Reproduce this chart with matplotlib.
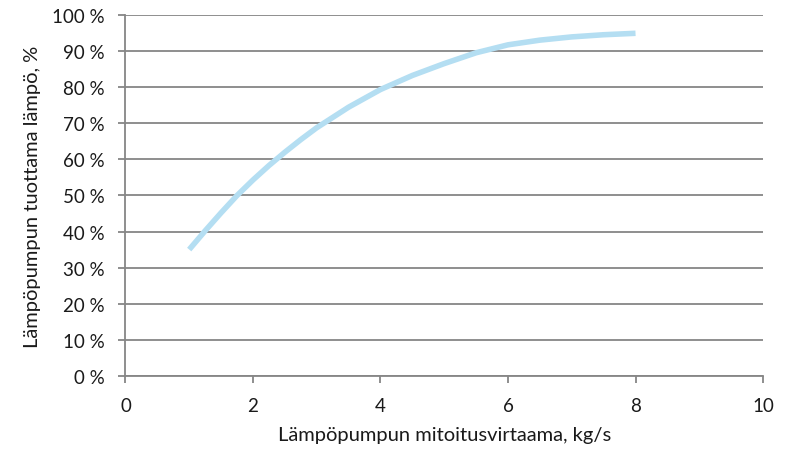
import matplotlib.pyplot as plt
from matplotlib.ticker import FuncFormatter

# Luettu kuvasta
virtaama = [1.0, 1.25, 1.5, 1.75, 2.0, 2.25, 2.5, 2.75, 3.0, 3.5, 4.0,
            4.5, 5.0, 5.5, 6.0, 6.5, 7.0, 7.5, 8.0]
osuus = [35, 40.2, 45.2, 50, 54.3, 58.3, 62, 65.5, 68.8, 74.5, 79.4,
         83.3, 86.6, 89.6, 91.8, 93.1, 94, 94.6, 95]

x_ticks = [0, 2, 4, 6, 8, 10]
y_ticks = list(range(0, 101, 10))

plt.rcParams['font.family'] = ['Lato', 'DejaVu Sans']

fig = plt.figure(figsize=(7.94, 4.52), dpi=100)
ax = fig.add_axes([0.158, 0.1666, 0.803, 0.7974])

grid_c = '#868686'
ax.plot(virtaama, osuus, color='#B4DEF2', lw=4.0, solid_capstyle='butt', zorder=3)

ax.set_xlim(0, 10)
ax.set_ylim(0, 100)
ax.set_xticks(x_ticks)
ax.set_yticks(y_ticks)
ax.yaxis.set_major_formatter(FuncFormatter(lambda v, p: f'{int(v)} %'))
ax.grid(axis='y', color=grid_c, lw=1.3)
ax.set_axisbelow(True)

for s in ['top', 'right']:
    ax.spines[s].set_visible(False)
for s in ['left', 'bottom']:
    ax.spines[s].set_color(grid_c)
    ax.spines[s].set_linewidth(1.3)

ax.tick_params(axis='both', colors=grid_c, width=1.3, length=5,
               labelcolor='#1a1a1a', labelsize=13.5)
ax.tick_params(axis='x', pad=10)
ax.tick_params(axis='y', pad=10)

ax.set_xlabel('Lämpöpumpun mitoitusvirtaama, kg/s', fontsize=14.5,
              color='#1a1a1a', labelpad=9)
ax.set_ylabel('Lämpöpumpun tuottama lämpö, %', fontsize=14.5,
              color='#1a1a1a', labelpad=8)

fig.savefig('out.png', dpi=100)
